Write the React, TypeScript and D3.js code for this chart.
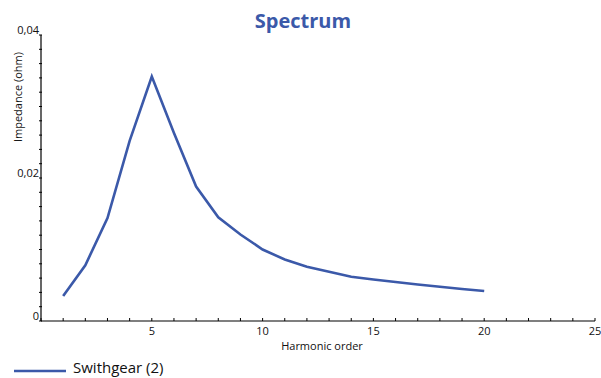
import React from "react";
import * as d3 from "d3";

const harmonics = [1, 2, 3, 4, 5, 6, 7, 8, 9, 10, 11, 12, 13, 14, 15, 16, 17, 18, 19, 20];
const impedance = [0.0035, 0.0078, 0.0144, 0.0252, 0.0342, 0.0263, 0.0188, 0.0145, 0.0121, 0.0100, 0.0086, 0.0076, 0.0069, 0.0062, 0.0058, 0.00545, 0.0051, 0.0048, 0.00448, 0.0042];
const xMajorTicks = [5, 10, 15, 20, 25];
const yMajorTicks = [0, 0.02, 0.04];
const yLabels = ["0", "0,02", "0,04"];
const seriesName = "Swithgear (2)";

const W = 601;
const H = 378;
const color = "#3b59a9";
const font = "'Open Sans', 'DejaVu Sans', sans-serif";

export default function App() {
  const x = d3.scaleLinear().domain([0, 25]).range([41, 595]);
  const y = d3.scaleLinear().domain([0, 0.04]).range([321, 35]);
  const line = d3
    .line<number>()
    .x((_, i) => x(harmonics[i]))
    .y((d) => y(d));
  const xMinor = d3.range(0, 26, 1);
  const yMinor = d3.range(0, 21, 1).map((i) => i * 0.002);

  return (
    <svg
      width={W}
      height={H}
      style={{ position: "absolute", left: 0, top: 0, background: "#fff" }}
      fontFamily={font}
    >
      <text x={303} y={28} textAnchor="middle" fontSize={20} fontWeight="bold" fill={color}>
        Spectrum
      </text>
      {/* axes */}
      <line x1={x(0)} x2={x(25)} y1={y(0)} y2={y(0)} stroke="#000" strokeWidth={1.2} />
      <line x1={x(0)} x2={x(0)} y1={y(0)} y2={y(0.04)} stroke="#000" strokeWidth={1.2} />
      {xMinor.map((t) => (
        <line key={"xt" + t} x1={x(t)} x2={x(t)} y1={y(0)} y2={y(0) - 3} stroke="#000" strokeWidth={1} />
      ))}
      {yMinor.map((t, i) => (
        <line key={"yt" + i} x1={x(0) - 2} x2={x(0) + 1} y1={y(t)} y2={y(t)} stroke="#000" strokeWidth={1} />
      ))}
      {xMajorTicks.map((t) => (
        <text key={"xl" + t} x={x(t)} y={y(0) + 14} textAnchor="middle" fontSize={11} fill="#111">
          {t}
        </text>
      ))}
      {yMajorTicks.map((t, i) => (
        <text key={"yl" + t} x={x(0) - 2} y={y(t) - 1} textAnchor="end" fontSize={11} fill="#111">
          {yLabels[i]}
        </text>
      ))}
      <text x={322} y={350} textAnchor="middle" fontSize={11} fill="#111">
        Harmonic order
      </text>
      <text
        transform={`translate(22, 97) rotate(-90)`}
        textAnchor="middle"
        fontSize={11}
        fill="#111"
      >
        Impedance (ohm)
      </text>
      <path d={line(impedance) || ""} fill="none" stroke={color} strokeWidth={2.6} strokeLinejoin="miter" />
      {/* legend */}
      <line x1={14} x2={66} y1={371} y2={371} stroke={color} strokeWidth={2.6} />
      <text x={73} y={373} fontSize={15} fill="#111">
        {seriesName}
      </text>
    </svg>
  );
}
